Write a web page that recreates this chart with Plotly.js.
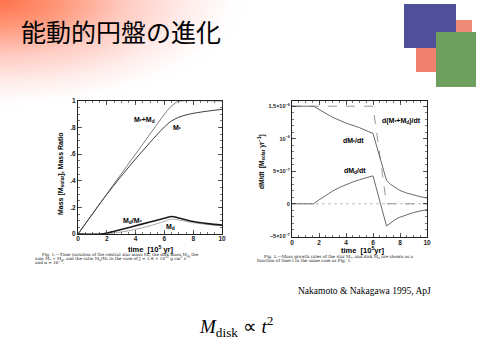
<!DOCTYPE html>
<html>
<head>
<meta charset="utf-8">
<script src="https://cdn.plot.ly/plotly-3.0.1.min.js"></script>
<style>
html,body{margin:0;padding:0;width:480px;height:360px;overflow:hidden;background:#fff;}
#bg{position:absolute;left:0;top:0;width:480px;height:360px;
background:radial-gradient(ellipse 250px 110px at 0px 0px, rgba(255,105,65,0.95) 0%, rgba(255,135,100,0.85) 25%, rgba(255,175,160,0.65) 50%, rgba(255,210,205,0.4) 75%, rgba(255,240,240,0.15) 92%, rgba(255,255,255,0) 100%);}
#chart{position:absolute;left:0;top:0;width:480px;height:360px;}
</style>
</head>
<body>
<div id="bg"></div>
<div id="chart"></div>
<script>
// ---- Fig.1 data (time in 10^5 yr, mass in solar masses) ----
const tTotal = [0, 6.0, 6.2, 6.4, 6.6, 6.8, 7.0, 10];
const massTotal = [0, 0.9, 0.928, 0.952, 0.972, 0.988, 0.998, 1.0];
const tStar = [0, 1.6, 2, 3, 4, 5, 6, 6.5, 7, 7.5, 8, 9, 10];
const massStar = [0, 0.24, 0.298, 0.435, 0.565, 0.688, 0.805, 0.85, 0.878, 0.895, 0.907, 0.924, 0.937];
const tDisk = [0, 1.6, 2, 3, 4, 5, 6, 6.5, 7, 8, 9, 10];
const massDisk = [0, 0, 0.002, 0.015, 0.035, 0.062, 0.095, 0.112, 0.105, 0.085, 0.072, 0.063];
const massRatio = [0, 0, 0.007, 0.034, 0.062, 0.09, 0.118, 0.132, 0.12, 0.094, 0.078, 0.067];
const yTicks1 = [0, 0.2, 0.4, 0.6, 0.8, 1];
const yTickText1 = ['0', '.2', '.4', '.6', '.8', '1'];
const xTicks = [0, 2, 4, 6, 8, 10];

// ---- Fig.2 data (rates in solar masses per yr) ----
const tRateTotal = [0, 6.0, 7.0, 10];
const rateTotal = [1.5e-6, 1.5e-6, 0, 0];
const tRateStar = [0, 1.6, 2, 3, 4, 5, 6, 6.5, 7, 7.3, 7.7, 8, 8.5, 9, 9.5, 10];
const rateStar = [1.5e-6, 1.5e-6, 1.45e-6, 1.33e-6, 1.24e-6, 1.17e-6, 1.08e-6, 0.72e-6, 0.36e-6, 0.30e-6, 0.24e-6, 0.205e-6, 0.165e-6, 0.135e-6, 0.11e-6, 0.09e-6];
const tRateDisk = [0, 1.6, 2, 2.5, 3, 3.5, 4, 4.5, 5, 5.5, 6, 7, 7.3, 7.7, 8, 8.5, 9, 9.5, 10];
const rateDisk = [0, 0, 0.06e-6, 0.13e-6, 0.195e-6, 0.25e-6, 0.295e-6, 0.335e-6, 0.37e-6, 0.40e-6, 0.43e-6, -0.34e-6, -0.29e-6, -0.235e-6, -0.205e-6, -0.165e-6, -0.135e-6, -0.11e-6, -0.09e-6];
const tZero = [0, 10];
const zeroLine = [0, 0];
const yTicks2 = [-5e-7, 0, 5e-7, 1e-6, 1.5e-6];
const yTickText2 = ['\u22125\u00d710<sup>\u22127</sup>', '0', '5\u00d710<sup>\u22127</sup>', '10<sup>\u22126</sup>', '1.5\u00d710<sup>\u22126</sup>'];

const W = 480, H = 360;
const px = x => x / W, py = y => 1 - y / H;

const traces = [
  {x: tTotal, y: massTotal, xaxis:'x', yaxis:'y', mode:'lines', line:{color:'#6e6e6e', width:0.9, shape:'spline'}},
  {x: tStar, y: massStar, xaxis:'x', yaxis:'y', mode:'lines', line:{color:'#3c3c3c', width:1, shape:'spline'}},
  {x: tDisk, y: massDisk, xaxis:'x', yaxis:'y', mode:'lines', line:{color:'#aaaaaa', width:1, shape:'spline'}},
  {x: tDisk, y: massRatio, xaxis:'x', yaxis:'y', mode:'lines', line:{color:'#1a1a1a', width:1.6, shape:'spline'}},
  {x: tZero, y: zeroLine, xaxis:'x2', yaxis:'y2', mode:'lines', line:{color:'#b0b0b0', width:0.8, dash:'dot'}},
  {x: tRateTotal, y: rateTotal, xaxis:'x2', yaxis:'y2', mode:'lines', line:{color:'#8a8a8a', width:0.9, dash:'dash'}},
  {x: tRateStar, y: rateStar, xaxis:'x2', yaxis:'y2', mode:'lines', line:{color:'#6a6a6a', width:1}},
  {x: tRateDisk, y: rateDisk, xaxis:'x2', yaxis:'y2', mode:'lines', line:{color:'#6a6a6a', width:1}}
];

const tickFont = {family:'Arial, Liberation Sans', size:6.5, color:'#222', weight:'bold'};
const axisBase = {
  showline:true, mirror:'ticks', linecolor:'#222', linewidth:1,
  ticks:'inside', ticklen:4, tickwidth:0.8, tickcolor:'#333',
  showgrid:false, zeroline:false, tickfont:tickFont, fixedrange:true
};
const lblFont = {family:'Liberation Sans', size:7, weight:'bold', color:'#000'};
const capFont = {family:'DejaVu Serif', size:4.2, color:'#222'};

function note(o) { return Object.assign({xref:'paper', yref:'paper', xanchor:'center', yanchor:'middle', showarrow:false}, o); }

const layout = {
  width: W, height: H,
  margin:{l:0, r:0, t:0, b:0},
  paper_bgcolor:'rgba(0,0,0,0)', plot_bgcolor:'rgba(0,0,0,0)',
  showlegend:false,
  xaxis: Object.assign({}, axisBase, {domain:[px(78), px(222)], range:[0,10], anchor:'y', tickvals:xTicks, ticklabelstandoff:-2,
    minor:{ticks:'inside', ticklen:2, dtick:0.5, tickcolor:'#555'}}),
  yaxis: Object.assign({}, axisBase, {domain:[py(234), py(101)], range:[0,1], anchor:'x', tickvals:yTicks1, ticktext:yTickText1,
    minor:{ticks:'inside', ticklen:2, dtick:0.05, tickcolor:'#555'}}),
  xaxis2: Object.assign({}, axisBase, {domain:[px(292), px(427)], range:[0,10], anchor:'y2', tickvals:xTicks, ticklabelstandoff:-1,
    minor:{ticks:'inside', ticklen:2, dtick:0.5, tickcolor:'#555'}}),
  yaxis2: Object.assign({}, axisBase, {domain:[py(237), py(101)], range:[-5.1e-7, 1.58e-6], anchor:'x2', tickvals:yTicks2, ticktext:yTickText2,
    tickfont:{family:'Arial, Liberation Sans', size:5.5, color:'#222', weight:'bold'},
    minor:{ticks:'inside', ticklen:2, dtick:1e-7, tickcolor:'#555'}}),
  shapes:[
    {type:'rect', xref:'paper', yref:'paper', x0:px(404), x1:px(456), y0:py(48), y1:py(4), fillcolor:'#50509a', line:{width:0}},
    {type:'rect', xref:'paper', yref:'paper', x0:px(456), x1:px(472), y0:py(32), y1:py(20), fillcolor:'#ef8a78', line:{width:0}},
    {type:'rect', xref:'paper', yref:'paper', x0:px(416), x1:px(436), y0:py(72), y1:py(48), fillcolor:'#ef8070', line:{width:0}},
    {type:'rect', xref:'paper', yref:'paper', x0:px(436), x1:px(476), y0:py(87), y1:py(32), fillcolor:'#6f9f5f', line:{width:0}}
  ],
  annotations:[
    note({x:px(19), y:py(31), xanchor:'left', text:'能動的円盤の進化', font:{family:'Noto Sans CJK JP', size:25, color:'#000'}}),
    // Fig 1 labels
    {xref:'x', yref:'y', x:4.6, y:0.855, showarrow:false, text:'M<sub>*</sub>+M<sub>d</sub>', font:lblFont},
    {xref:'x', yref:'y', x:6.9, y:0.80, showarrow:false, text:'M<sub>*</sub>', font:lblFont},
    {xref:'x', yref:'y', x:3.8, y:0.10, showarrow:false, text:'M<sub>d</sub>/M<sub>*</sub>', font:lblFont},
    {xref:'x', yref:'y', x:6.4, y:0.055, showarrow:false, text:'M<sub>d</sub>', font:lblFont},
    note({x:px(151), y:py(248.5), text:'time  [10<sup>5</sup> yr]', font:{family:'Liberation Sans', size:7.5, weight:'bold', color:'#000'}}),
    note({x:px(61), y:py(174), textangle:-90, text:'Mass [M<sub>solar</sub>], Mass Ratio', font:{family:'Liberation Sans', size:7, weight:'bold', color:'#000'}}),
    // Fig 2 labels
    {xref:'x2', yref:'y2', x:8.1, y:1.28e-6, showarrow:false, text:'d(M<sub>*</sub>+M<sub>d</sub>)/dt', font:lblFont},
    {xref:'x2', yref:'y2', x:4.55, y:0.97e-6, showarrow:false, text:'dM<sub>*</sub>/dt', font:lblFont},
    {xref:'x2', yref:'y2', x:4.67, y:0.5e-6, showarrow:false, text:'dM<sub>d</sub>/dt', font:lblFont},
    note({x:px(362), y:py(250), text:'time  [10<sup>5</sup>yr]', font:{family:'Liberation Sans', size:7.5, weight:'bold', color:'#000'}}),
    note({x:px(262), y:py(162), textangle:-90, text:'dM/dt  [M<sub>solar</sub> yr<sup>\u22121</sup>]', font:{family:'Liberation Sans', size:6.5, weight:'bold', color:'#000'}}),
    // captions
    note({x:px(40), y:py(255), xanchor:'left', text:'Fig. 1.—Time variation of the central star mass M<sub>*</sub>, the disk mass M<sub>d</sub>, the', font:capFont}),
    note({x:px(33), y:py(258.5), xanchor:'left', text:'sum M<sub>*</sub> + M<sub>d</sub>, and the ratio M<sub>d</sub>/M<sub>*</sub> in the case of J = 1.6 × 10<sup>51</sup> g cm<sup>2</sup> s<sup>−1</sup>', font:capFont}),
    note({x:px(33), y:py(262), xanchor:'left', text:'and α = 10<sup>−2</sup>.', font:capFont}),
    note({x:px(262), y:py(256.5), xanchor:'left', text:'Fig. 2.—Mass growth rates of the star M<sub>*</sub>, and disk M<sub>d</sub> are shown as a', font:capFont}),
    note({x:px(255), y:py(260), xanchor:'left', text:'function of time t in the same case as Fig. 1.', font:capFont}),
    // citation and formula
    note({x:px(364), y:py(291), text:'Nakamoto & Nakagawa 1995, ApJ', font:{family:'Liberation Serif', size:9.5, color:'#000'}}),
    note({x:px(236), y:py(326), text:'<i>M</i><sub>disk</sub> \u221d <i>t</i><sup>2</sup>', font:{family:'Liberation Serif', size:19, color:'#000'}})
  ]
};

Plotly.newPlot('chart', traces, layout, {staticPlot:true, displayModeBar:false});
</script>
</body>
</html>
